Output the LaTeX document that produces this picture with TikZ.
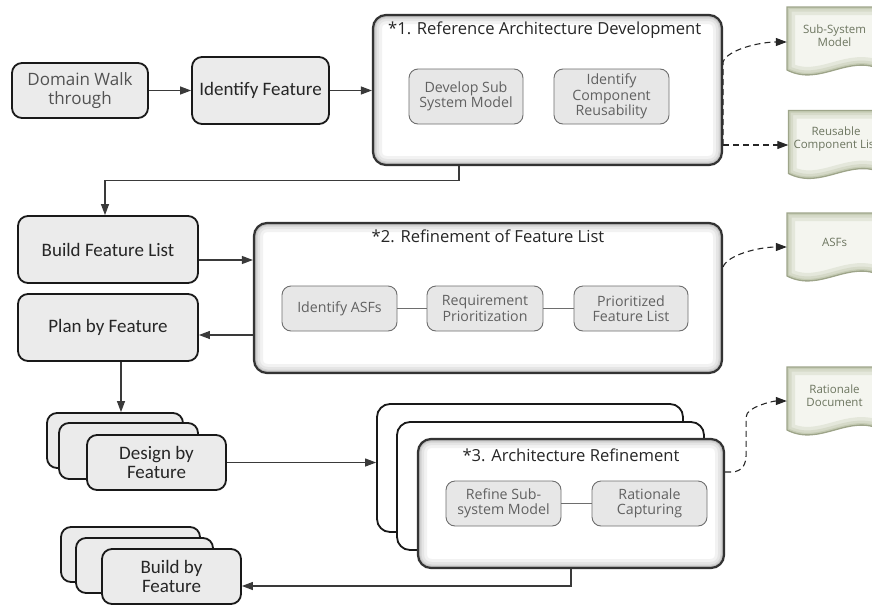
\documentclass[tikz,border=0pt]{standalone}
\usepackage{fontspec}
\setmainfont{Carlito}
\newfontfamily\opensans{Open Sans}
\usetikzlibrary{arrows.meta,backgrounds}

\definecolor{procfill}{HTML}{EBEBEB}
\definecolor{subfill}{HTML}{E7E7E7}
\definecolor{subline}{HTML}{6E6E6E}
\definecolor{docfill}{HTML}{F4F5EF}
\definecolor{docedge}{HTML}{C6CCB5}
\definecolor{docline}{HTML}{9EA58A}
\definecolor{doctext}{HTML}{6C755F}
\definecolor{wire}{HTML}{3A3A3A}

\tikzset{
  proc/.style={draw=black!90, line width=1.8pt, fill=procfill, rounded corners=10pt,
    inner sep=0pt, align=center, text=black!85,
    font=\fontsize{19}{19}\selectfont},
  container/.style={draw=black!80, line width=2.2pt, fill=white, rounded corners=13pt,
    inner sep=0pt,
    path picture={
      \foreach \w/\c in {18/5, 12/10, 7/17, 4/27} {
        \draw[line width=\w pt, black!\c, rounded corners=13pt]
          (path picture bounding box.south west) rectangle (path picture bounding box.north east);
      }
    }},
  framecard/.style={draw=black!90, line width=1.8pt, fill=white, rounded corners=13pt, inner sep=0pt},
  sub/.style={draw=subline, line width=0.9pt, fill=subfill, rounded corners=9pt,
    inner sep=0pt, align=center, text=black!62,
    font=\opensans\fontsize{14.2}{15.5}\selectfont},
  heading/.style={inner sep=0pt, text=black!85, font=\opensans\fontsize{16.6}{18}\selectfont},
  doc/.style={inner sep=0pt, minimum width=95, minimum height=40, align=center,
    text=doctext, font=\opensans\fontsize{11.5}{13}\selectfont},
  arr/.style={draw=wire, line width=1.1pt, -{Triangle[length=11pt,width=8pt]}},
  dasharr/.style={draw=black!85, line width=1.1pt, dash pattern=on 6pt off 4pt,
    -{Triangle[length=11pt,width=8pt]}},
  link/.style={draw=subline, line width=1pt},
}

% outline of a document symbol with a wavy lower edge, around a named node
\newcommand\docoutline[1]{([shift={(-47.5,-29)}]#1.center) -- ([shift={(47.5,-29)}]#1.center)
  -- ([shift={(47.5,34)}]#1.center)
  .. controls ([shift={(14.25,17)}]#1.center) and ([shift={(-14.25,51)}]#1.center)
  .. ([shift={(-47.5,34)}]#1.center) -- cycle}

\newcommand\docshape[1]{%
  \begin{scope}[on background layer]
    \fill[docfill] \docoutline{#1};
    \begin{scope}
      \clip \docoutline{#1};
      \draw[line width=16pt, docedge!35!docfill] \docoutline{#1};
      \draw[line width=9pt, docedge!65!docfill] \docoutline{#1};
      \draw[line width=4pt, docedge] \docoutline{#1};
    \end{scope}
    \draw[docline, line width=1.3pt] \docoutline{#1};
  \end{scope}}

\begin{document}
\begin{tikzpicture}[x=1pt,y=-1pt]
\useasboundingbox (0,0) rectangle (872,608);

% ---- row 1: domain walkthrough and reference architecture
\node[proc, minimum width=136, minimum height=55, text=black!68,
      font=\opensans\fontsize{17}{19}\selectfont] (dwt) at (80,90.5) {Domain Walk\\through};
\node[proc, minimum width=137, minimum height=67] (idf) at (260.5,90.5) {Identify Feature};
\node[container, minimum width=349, minimum height=150] (box1) at (547.5,90) {};
\node[heading, anchor=west] (t1) at ([shift={(16,-60)}]box1.west) {*1. Reference Architecture Development};
\node[sub, minimum width=114, minimum height=55] (dss) at (466,96.5) {Develop Sub\\System Model};
\node[sub, minimum width=115, minimum height=55] (icr) at (611.5,96.5) {Identify\\Component\\Reusability};

\node[doc] (ssm) at (834.5,36) {Sub-System\\Model};
\node[doc] (rcl) at (836,139.5) {Reusable\\Component List};
\docshape{ssm}
\docshape{rcl}

\draw[arr] (dwt.east) -- (dwt.east -| idf.west);
\draw[arr] (idf.east) -- (idf.east -| box1.west);

\coordinate (e1) at ([shift={(0,55)}]box1.east);
\draw[dasharr] (e1) -- ([shift={(0,-28)}]box1.east)
  .. controls +(4,-12) and +(-28,0) .. ([shift={(0,6)}]ssm.west);
\draw[dasharr] (e1) -- (e1 -| rcl.west);

% ---- row 2: feature list
\node[proc, minimum width=180, minimum height=67] (bfl) at (108,249.5) {Build Feature List};
\node[proc, minimum width=180, minimum height=67] (pbf) at (108,327.5) {Plan by Feature};
\node[container, minimum width=468, minimum height=150] (box2) at (488,298) {};
\node[heading] (t2) at ([shift={(0,14)}]box2.north) {*2. Refinement of Feature List};
\node[sub, minimum width=115, minimum height=45] (asf) at (339.5,308.5) {Identify ASFs};
\node[sub, minimum width=116, minimum height=45] (rqp) at (485,308.5) {Requirement\\Prioritization};
\node[sub, minimum width=114, minimum height=45] (pfl) at (631,308.5) {Prioritized\\Feature List};
\draw[link] (asf) -- (rqp);
\draw[link] (rqp) -- (pfl);

\node[doc] (asfs) at (834.5,242) {ASFs};
\docshape{asfs}

\draw[arr] ([shift={(-88.5,0)}]box1.south) -- ++(0,14) -| ([shift={(-3,0)}]bfl.north);
\coordinate (a1) at ([shift={(0,10.5)}]bfl.east);
\draw[arr] (a1) -- (a1 -| box2.west);
\coordinate (a2) at ([shift={(0,7.5)}]pbf.east);
\draw[arr] (a2 -| box2.west) -- (a2);
\draw[dasharr] ([shift={(0,-31)}]box2.east)
  .. controls +(4,-12) and +(-28,0) .. ([shift={(0,5)}]asfs.west);

% ---- row 3: design by feature and architecture refinement
\node[proc, minimum width=136, minimum height=55] (dbfa) at (115,440.5) {};
\node[proc, minimum width=139, minimum height=56] (dbfb) at (128.5,451) {};
\node[proc, minimum width=139, minimum height=55] (dbf) at (156.5,462.5) {Design by\\Feature};

\node[framecard, minimum width=306, minimum height=128] (ar3a) at (530,468) {};
\node[framecard, minimum width=307, minimum height=128] (ar3b) at (550.5,486) {};
\node[container, minimum width=306, minimum height=129] (ar3) at (571,503.5) {};
\node[heading] (t3) at ([shift={(0,17)}]ar3.north) {*3. Architecture Refinement};
\node[sub, minimum width=115, minimum height=45] (rsm) at (503.5,503.5) {Refine Sub-\\system Model};
\node[sub, minimum width=115, minimum height=45] (rcap) at (649.5,503.5) {Rationale\\Capturing};
\draw[link] (rsm) -- (rcap);

\node[doc] (rat) at (834.5,396) {Rationale\\Document};
\docshape{rat}

\coordinate (p3) at ([shift={(13,0)}]pbf.south);
\draw[arr] (p3) -- (p3 |- dbfa.north);
\draw[arr] (dbf.east) -- (dbf.east -| ar3a.west);
\draw[dasharr] ([shift={(0,-31.5)}]ar3.east) -- ++(6,0)
  .. controls +(12,0) and +(0,8) .. ++(15,-17) -- ++(0,-38)
  .. controls +(0,-10) and +(-14,0) .. ([shift={(0,5)}]rat.west);

% ---- row 4: build by feature
\node[proc, minimum width=139, minimum height=55] (bbfa) at (130.5,554.5) {};
\node[proc, minimum width=137, minimum height=55] (bbfb) at (144.5,565.5) {};
\node[proc, minimum width=139, minimum height=55] (bbf) at (171.5,576.5) {Build by\\Feature};
\coordinate (p5) at ([shift={(0,9.5)}]bbf.east);
\draw[arr] (ar3.south) |- (p5);

\end{tikzpicture}
\end{document}
